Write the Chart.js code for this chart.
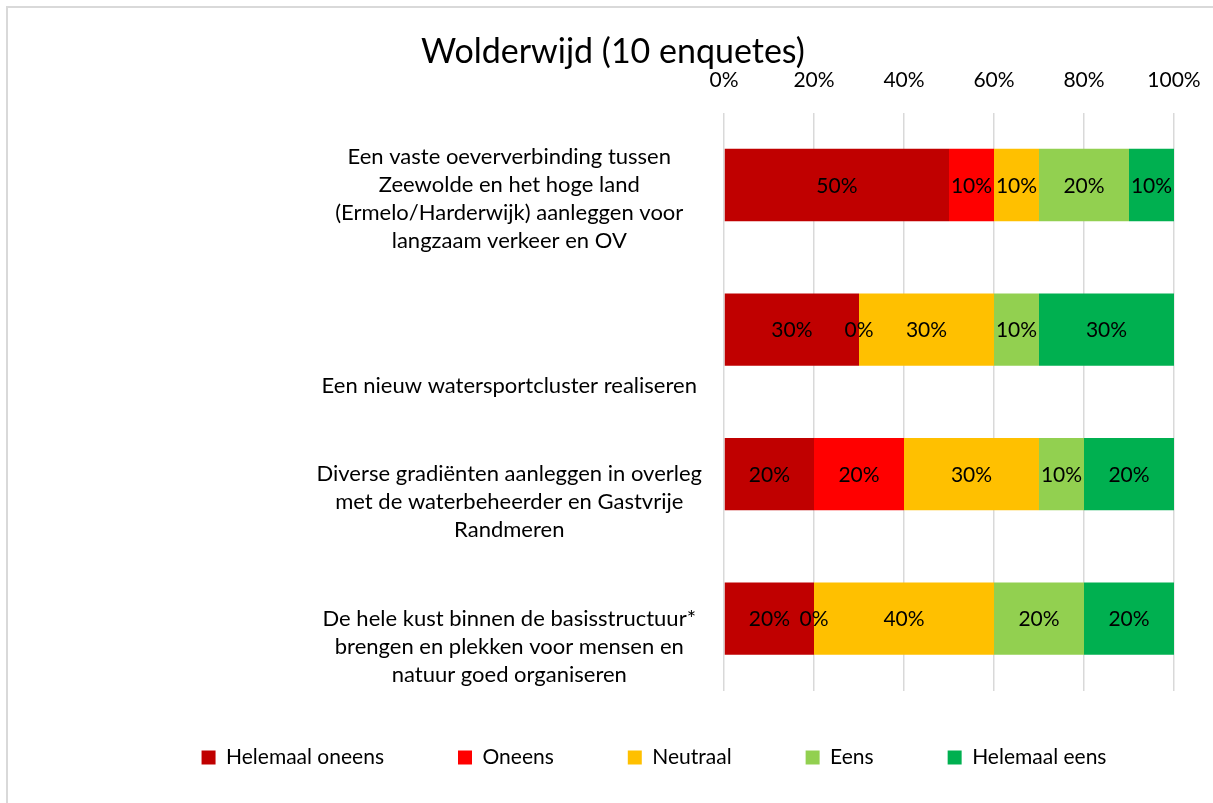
<!DOCTYPE html>
<html><head><meta charset="utf-8">
<script src="https://cdn.jsdelivr.net/npm/chart.js@4/dist/chart.umd.min.js"></script>
<style>html,body{margin:0;padding:0;background:#fff}#wrap{width:1213px;height:803px;position:relative}</style>
</head><body><div id="wrap"><canvas id="c" width="1213" height="803"></canvas></div>
<script>
const chartTitle = "Wolderwijd (10 enquetes)";
const categories = [
  ["Een vaste oeververbinding tussen", "Zeewolde en het hoge land", "(Ermelo/Harderwijk) aanleggen voor", "langzaam verkeer en OV"],
  ["Een nieuw watersportcluster realiseren"],
  ["Diverse gradiënten aanleggen in overleg", "met de waterbeheerder en Gastvrije", "Randmeren"],
  ["De hele kust binnen de basisstructuur*", "brengen en plekken voor mensen en", "natuur goed organiseren"]
];
const seriesNames = ["Helemaal oneens", "Oneens", "Neutraal", "Eens", "Helemaal eens"];
const helemaalOneens = [50, 30, 20, 20];
const oneens = [10, 0, 20, 0];
const neutraal = [10, 30, 30, 40];
const eens = [20, 10, 10, 20];
const helemaalEens = [10, 30, 20, 20];
const xTickValues = [0, 20, 40, 60, 80, 100];

// presentation
const colors = ["#C00000", "#FF0000", "#FFC000", "#92D050", "#00B050"];
const FONT = "Lato";
const labelLeadBlankLines = [1, 4, 2, 2];
const PAD_L = 16, PAD_R = 3;

const seriesValues = [helemaalOneens, oneens, neutraal, eens, helemaalEens];

const frame = {
  id: 'frame',
  beforeDraw(chart) {
    const c = chart.ctx;
    c.save();
    c.fillStyle = '#fff';
    c.fillRect(0, 0, chart.width, chart.height);
    c.strokeStyle = '#D9D9D9';
    c.lineWidth = 2;
    c.beginPath();
    c.moveTo(7, chart.height);
    c.lineTo(7, 7);
    c.lineTo(chart.width, 7);
    c.stroke();
    c.restore();
  }
};

const valueLabels = {
  id: 'valueLabels',
  afterDatasetsDraw(chart) {
    const c = chart.ctx;
    c.save();
    c.font = "21px " + FONT;
    c.fillStyle = '#000';
    c.textAlign = 'center';
    c.textBaseline = 'middle';
    chart.data.datasets.forEach((ds, i) => {
      const meta = chart.getDatasetMeta(i);
      meta.data.forEach((bar, j) => {
        const p = bar.getProps(['x', 'y', 'base'], true);
        c.fillText(ds.data[j] + '%', (p.x + p.base) / 2, p.y + 1);
      });
    });
    c.restore();
  }
};

const legendShift = {
  id: 'legendShift',
  afterLayout(chart) {
    const lg = chart.legend;
    if (!lg) return;
    const dx = 41, dy = -18;
    lg.left += dx; lg.right += dx; lg.top += dy; lg.bottom += dy;
  }
};

new Chart(document.getElementById('c'), {
  type: 'bar',
  data: {
    labels: categories,
    datasets: seriesNames.map((n, i) => ({
      label: n,
      data: seriesValues[i],
      backgroundColor: colors[i],
      borderWidth: 0,
      barPercentage: 0.5,
      categoryPercentage: 1.0
    }))
  },
  options: {
    indexAxis: 'y',
    responsive: false,
    animation: false,
    layout: { padding: { top: 8, left: PAD_L, right: PAD_R, bottom: 7 } },
    scales: {
      x: {
        position: 'top',
        stacked: true,
        min: 0, max: 100,
        afterBuildTicks(scale) { scale.ticks = xTickValues.map(v => ({ value: v })); },
        afterFit(scale) { scale.paddingRight = 39; },
        ticks: {
          callback: v => v + '%',
          color: '#000',
          font: { family: FONT, size: 21 },
          padding: 19.5
        },
        grid: { color: '#D9D9D9', lineWidth: 1.5, drawTicks: false },
        border: { display: false }
      },
      y: {
        stacked: true,
        afterFit(scale) { scale.width = 724 - PAD_L; },
        ticks: {
          autoSkip: false,
          crossAlign: 'center',
          color: '#000',
          font: { family: FONT, size: 22, lineHeight: 1.273 },
          padding: 14,
          callback(v, i) { return Array(labelLeadBlankLines[i]).fill('').concat(categories[i]); }
        },
        grid: { display: false },
        border: { display: false }
      }
    },
    plugins: {
      title: {
        display: true,
        text: chartTitle,
        color: '#000',
        font: { family: FONT, size: 34, weight: 'normal', lineHeight: 1 },
        padding: { top: 27, bottom: -20.5 }
      },
      legend: {
        position: 'bottom',
        labels: {
          color: '#000',
          font: { family: FONT, size: 21 },
          boxWidth: 14,
          boxHeight: 14,
          padding: 74
        }
      },
      tooltip: { enabled: false }
    }
  },
  plugins: [frame, valueLabels, legendShift]
});
</script>
</body></html>
